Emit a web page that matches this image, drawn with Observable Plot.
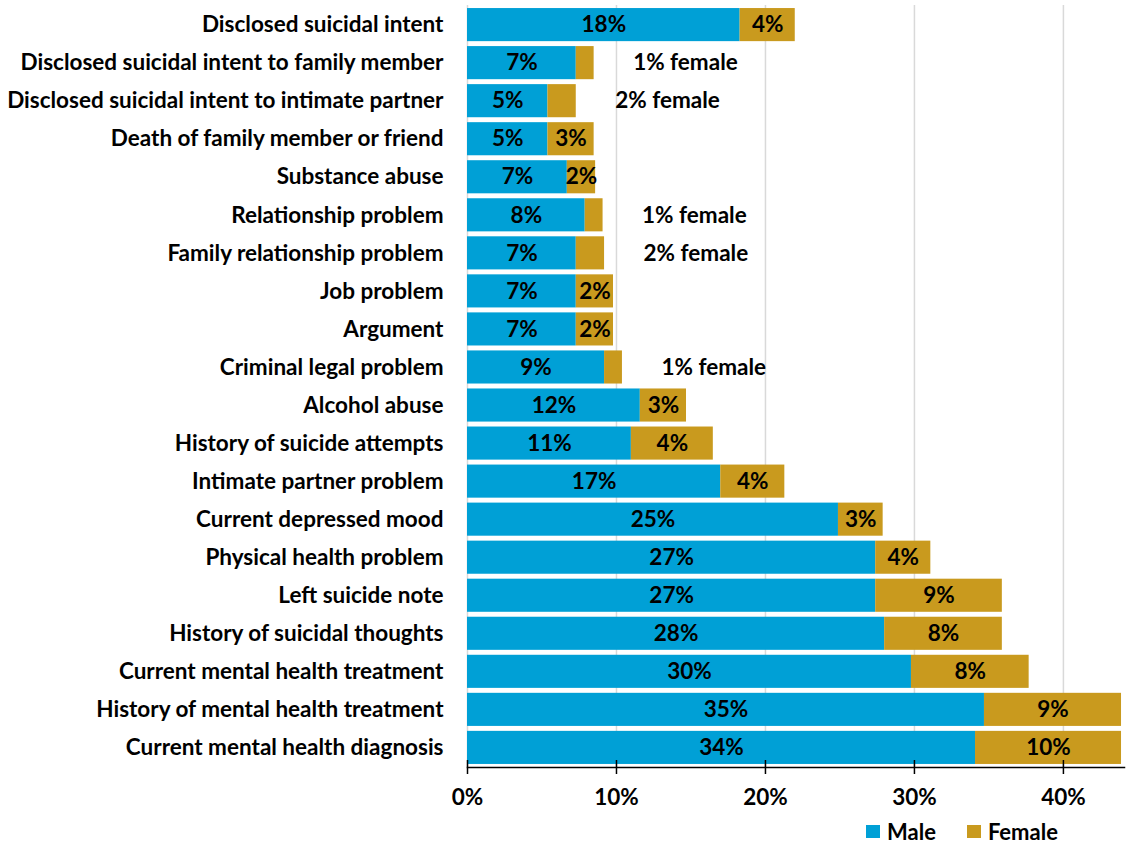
<!DOCTYPE html>
<html>
<head>
<meta charset="utf-8">
<script src="https://cdn.jsdelivr.net/npm/d3@7"></script>
<script src="https://cdn.jsdelivr.net/npm/@observablehq/plot@0.6"></script>
<style>
  body { margin: 0; background: #fff; font-family: Lato, "Open Sans", sans-serif; position: relative; width: 1127px; height: 844px; overflow: hidden; }
  #chart { position: absolute; left: 0; top: 0; }
  #legend { position: absolute; left: 866px; top: 818px; height: 26px; display: flex; align-items: center; font-weight: bold; font-size: 22px; color: #000; }
  #legend .sw { width: 14px; height: 13px; display: inline-block; margin-right: 7px; }
  #legend .item { display: flex; align-items: center; margin-right: 31px; }
</style>
</head>
<body>
<div id="chart"></div>
<div id="legend"></div>
<script>
const categories = [
  "Disclosed suicidal intent",
  "Disclosed suicidal intent to family member",
  "Disclosed suicidal intent to intimate partner",
  "Death of family member or friend",
  "Substance abuse",
  "Relationship problem",
  "Family relationship problem",
  "Job problem",
  "Argument",
  "Criminal legal problem",
  "Alcohol abuse",
  "History of suicide attempts",
  "Intimate partner problem",
  "Current depressed mood",
  "Physical health problem",
  "Left suicide note",
  "History of suicidal thoughts",
  "Current mental health treatment",
  "History of mental health treatment",
  "Current mental health diagnosis"
];
const male   = [18.3, 7.3, 5.4, 5.4, 6.7, 7.9, 7.3, 7.3, 7.3, 9.2, 11.6, 11.0, 17.0, 24.9, 27.4, 27.4, 28.0, 29.8, 34.7, 34.1];
const female = [3.7, 1.2, 1.9, 3.1, 1.9, 1.2, 1.9, 2.5, 2.5, 1.2, 3.1, 5.5, 4.3, 3.0, 3.7, 8.5, 7.9, 7.9, 9.2, 9.8];
const maleLabels   = [18, 7, 5, 5, 7, 8, 7, 7, 7, 9, 12, 11, 17, 25, 27, 27, 28, 30, 35, 34];
const femaleLabels = [4, 1, 2, 3, 2, 1, 2, 2, 2, 1, 3, 4, 4, 3, 4, 9, 8, 8, 9, 10];
const femaleOutside = [
  "Disclosed suicidal intent to family member",
  "Disclosed suicidal intent to intimate partner",
  "Relationship problem",
  "Family relationship problem",
  "Criminal legal problem"
];
const xTicks = [0, 10, 20, 30, 40];
const series = ["Male", "Female"];
const colors = ["#00A0D6", "#C99A1E"];

const rows = [];
categories.forEach((c, i) => {
  rows.push({category: c, sex: "Male", x1: 0, x2: male[i], label: maleLabels[i] + "%", inside: true});
  rows.push({category: c, sex: "Female", x1: male[i], x2: male[i] + female[i], label: femaleLabels[i] + "%", inside: !femaleOutside.includes(c)});
});
const outside = rows.filter(d => d.sex === "Female" && !d.inside);

const font = "Lato, 'Open Sans', sans-serif";
const fs = 22.5;
const chart = Plot.plot({
  width: 1127,
  height: 816,
  marginLeft: 467,
  marginRight: 3,
  marginTop: 5,
  marginBottom: 49,
  style: {fontFamily: font, fontSize: fs + "px", fontWeight: "bold", color: "#000", background: "#fff"},
  x: {domain: [0, 44.1], ticks: xTicks, tickFormat: d => d + "%"},
  y: {domain: categories, paddingInner: 0.13, paddingOuter: 0.08, round: false},
  color: {domain: series, range: colors},
  marks: [
    Plot.ruleX(xTicks, {stroke: "#d9d9d9", strokeWidth: 1.5}),
    Plot.barX(rows, {y: "category", x1: "x1", x2: "x2", fill: "sex"}),
    Plot.text(rows.filter(d => d.inside), {
      y: "category", x: d => (d.x1 + d.x2) / 2, text: "label",
      fill: "#000", fontSize: fs, fontWeight: "bold", fontFamily: font
    }),
    Plot.text(outside, {
      y: "category", x: "x2", text: d => d.label + " female", dx: 39, textAnchor: "start",
      fill: "#000", fontSize: fs, fontWeight: "bold", fontFamily: font
    }),
    Plot.frame({anchor: "bottom", stroke: "#000", strokeWidth: 1.5}),
    Plot.axisX({ticks: xTicks, tickSize: 14, dy: -7, tickPadding: 15, tickFormat: d => d + "%", label: null, fontSize: fs, fontWeight: "bold", stroke: "#000", strokeWidth: 1.5}),
    Plot.axisY({tickSize: 0, tickPadding: 24, label: null, fontSize: fs, fontWeight: "bold"})
  ]
});
document.getElementById("chart").appendChild(chart);

const legend = document.getElementById("legend");
series.forEach((s, i) => {
  const item = document.createElement("div");
  item.className = "item";
  const sw = document.createElement("span");
  sw.className = "sw";
  sw.style.background = colors[i];
  item.appendChild(sw);
  item.appendChild(document.createTextNode(s));
  legend.appendChild(item);
});
</script>
</body>
</html>
